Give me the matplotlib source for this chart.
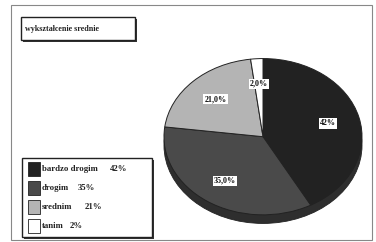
import matplotlib.pyplot as plt
from matplotlib.patches import Rectangle, Ellipse

categories = ['bardzo drogim', 'drogim', 'srednim', 'tanim']
values = [42, 35, 21, 2]
legend_pct = ['42%', '35%', '21%', '2%']
slice_labels = ['42%', '35,0%', '21,0%', '2,0%']
colors = ['#222222', '#4a4a4a', '#b4b4b4', '#ffffff']
title = 'wykształcenie srednie'

W, H = 376, 242
fig = plt.figure(figsize=(W / 100, H / 100), dpi=100)
fig.patch.set_facecolor('white')
serif = ['Liberation Serif', 'DejaVu Serif']

# outer frame
fig.add_artist(Rectangle((11 / W, 1 - 240 / H), 361 / W, 235 / H,
                         transform=fig.transFigure, fill=False,
                         edgecolor='#888888', lw=0.8))

# title box with shadow
fig.add_artist(Rectangle((23 / W, 1 - 42 / H), 114 / W, 23 / H,
                         transform=fig.transFigure, facecolor='#333333', lw=0))
fig.add_artist(Rectangle((21 / W, 1 - 40 / H), 114 / W, 23 / H,
                         transform=fig.transFigure, facecolor='white',
                         edgecolor='#222222', lw=1.0))
fig.text(25 / W, 1 - 29 / H, title, fontsize=5.8, family=serif,
         va='center', ha='left', weight='bold', color='#222222')

# pie (elliptical, with depth)
ax = fig.add_axes([162 / W, 1 - 225 / H, 202 / W, 168 / H])
ax.add_patch(Ellipse((0, -0.11), 2.0, 2.0, facecolor='#2e2e2e', lw=0.6,
                     edgecolor='#222222', zorder=0))
lab_iter = iter(slice_labels)
wedges, texts, autotexts = ax.pie(values, colors=colors, startangle=90,
                                  counterclock=False, radius=1.0,
                                  autopct=lambda p: next(lab_iter),
                                  pctdistance=0.68,
                                  wedgeprops=dict(edgecolor='#222222', lw=0.7),
                                  textprops=dict(fontsize=5.8, family=serif,
                                                 weight='bold', color='#111111'))
for t in autotexts:
    t.set_bbox(dict(facecolor='white', edgecolor='none', pad=0.8))
ax.set_aspect('auto')
ax.set_xlim(-1.02, 1.02)
ax.set_ylim(-1.13, 1.02)
ax.axis('off')

# legend box with shadow
lx, ly, lw_, lh = 22, 158, 130, 79
fig.add_artist(Rectangle(((lx + 2) / W, 1 - (ly + lh + 2) / H), lw_ / W, lh / H,
                         transform=fig.transFigure, facecolor='#333333', lw=0))
fig.add_artist(Rectangle((lx / W, 1 - (ly + lh) / H), lw_ / W, lh / H,
                         transform=fig.transFigure, facecolor='white',
                         edgecolor='#222222', lw=1.0))
pct_x = [110, 78, 85, 70]
for i, (cat, pct, col) in enumerate(zip(categories, legend_pct, colors)):
    yc = ly + 11 + i * 19
    fig.add_artist(Rectangle(((lx + 6) / W, 1 - (yc + 7) / H), 12 / W, 14 / H,
                             transform=fig.transFigure, facecolor=col,
                             edgecolor='#222222', lw=0.6))
    fig.text((lx + 20) / W, 1 - yc / H, cat, fontsize=6.3, family=serif,
             va='center', ha='left', weight='bold', color='#222222')
    fig.text(pct_x[i] / W, 1 - yc / H, pct, fontsize=6.3, family=serif,
             va='center', ha='left', weight='bold', color='#222222')

plt.savefig('out.png', dpi=100)
